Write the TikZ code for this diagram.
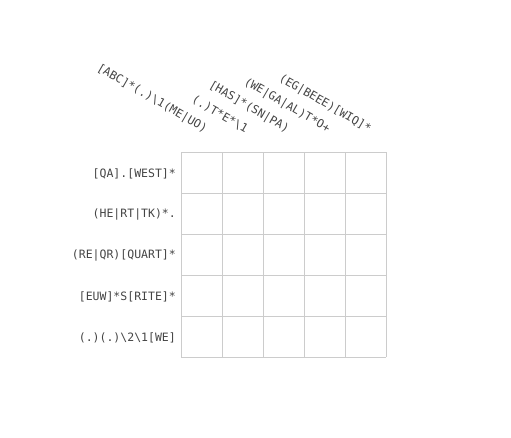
\documentclass[tikz,border=0pt]{standalone}
\usepackage{fontspec}
\setmonofont{DejaVu Sans Mono}
\usetikzlibrary{
  positioning,
}
\definecolor{labelgray}{HTML}{444444}
\definecolor{linegray}{HTML}{CCCCCC}
\tikzstyle{rowclue} = [
anchor=east,
inner sep=0pt,
text=labelgray,
font=\ttfamily\fontsize{11.5}{12}\selectfont
]
\tikzstyle{colclue} = [
anchor=east,
inner sep=0pt,
rotate=-30,
text=labelgray,
font=\ttfamily\fontsize{11.5}{12}\selectfont
]
\tikzstyle{gridline} = [draw=linegray, line width=0.8pt]

\begin{document}
\begin{tikzpicture}[x=1pt, y=-1pt]
  \useasboundingbox (0,0) rectangle (511,437);
  % Draw grid
  \draw [gridline, step=41pt, shift={(181,152)}] (0,0) grid (205,205);

  % Place row clues
  \node [rowclue] (r1) at (176,173.5) {[QA].[WEST]*};
  \node [rowclue] (r2) at (176,214.5) {(HE|RT|TK)*.};
  \node [rowclue] (r3) at (176,255.5) {(RE|QR)[QUART]*};
  \node [rowclue] (r4) at (176,296.5) {[EUW]*S[RITE]*};
  \node [rowclue] (r5) at (176,337.5) {(.)(.)\textbackslash 2\textbackslash 1[WE]};

  % Place column clues
  \node [colclue] (c1) at (206,130) {[ABC]*(.)\textbackslash 1(ME|UO)};
  \node [colclue] (c2) at (247,130) {(.)T*E*\textbackslash 1};
  \node [colclue] (c3) at (288,130) {[HAS]*(SN|PA)};
  \node [colclue] (c4) at (329,130) {(WE|GA|AL)T*O+};
  \node [colclue] (c5) at (370,130) {(EG|BEEE)[WIQ]*};
\end{tikzpicture}
\end{document}
